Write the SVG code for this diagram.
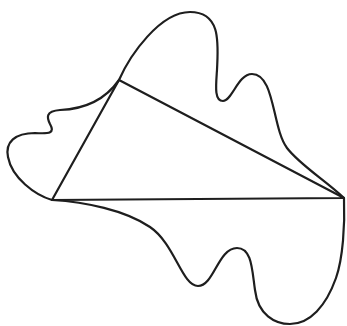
<svg xmlns="http://www.w3.org/2000/svg" width="347" height="326" viewBox="0 0 347 326">
<style>
.ln{fill:none;stroke:#1e1e1e;stroke-width:2.2;stroke-linejoin:round;stroke-linecap:round}
</style>
<rect width="347" height="326" fill="#ffffff"/>
<g id="outline">
<path class="ln" d="M52,200 C85,202 125,210 150,227 C175,244 182,286 198,286 C214,286 218,248 237,248 C252,248 252,270 255,290 C258,315 275,324 290,324 C310,324 326,306 336,278 C343,258 345,225 344,198 C325,180 300,165 287,148 C272,128 275,74 252,74 C238,74 232,101 223,101 C214,101 216,85 217,70 C218,45 222,12 190,12 C160,12 130,55 119,80 C105,100 85,109 60,110 C45,111 47,118 50,124 C55,133 50,134 35,133 C15,133 5,142 8,157 C12,178 35,195 52,200 Z"/>
</g>
<g id="triangle">
<path class="ln" d="M52,200 L119,80 L344,198 Z"/>
</g>
</svg>
